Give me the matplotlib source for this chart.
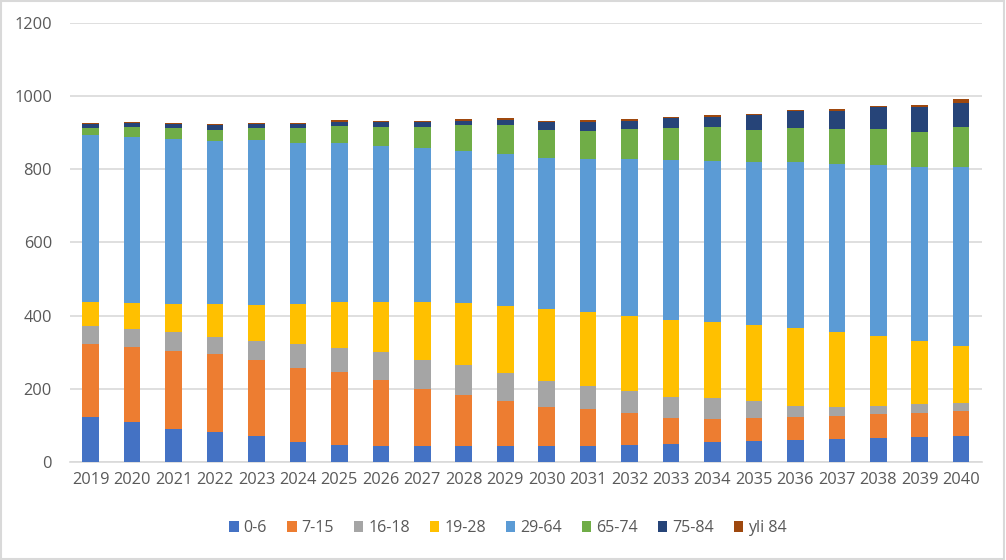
import numpy as np
import matplotlib.pyplot as plt
from matplotlib.patches import Rectangle

years = [str(y) for y in range(2019, 2041)]
groups = ["0-6", "7-15", "16-18", "19-28", "29-64", "65-74", "75-84", "yli 84"]

age_0_6 = [124, 108, 89, 83, 71, 55, 46, 44, 44, 44, 44, 44, 44, 47, 50, 56, 58, 60, 63, 66, 68, 71]
age_7_15 = [199, 205, 215, 211, 209, 203, 199, 179, 156, 140, 123, 107, 102, 88, 71, 62, 63, 64, 64, 66, 66, 69]
age_16_18 = [50, 51, 52, 49, 52, 65, 67, 77, 79, 82, 76, 71, 62, 59, 58, 57, 47, 29, 24, 21, 25, 22]
age_19_28 = [64, 70, 77, 90, 98, 110, 126, 137, 158, 168, 183, 195, 201, 204, 208, 209, 207, 214, 205, 192, 173, 156]
age_29_64 = [457, 455, 451, 445, 450, 440, 434, 426, 421, 416, 416, 413, 419, 430, 439, 438, 444, 452, 458, 466, 474, 488]
age_65_74 = [18, 27, 28, 30, 32, 39, 46, 53, 58, 71, 79, 78, 77, 83, 86, 93, 88, 93, 95, 98, 95, 109]
age_75_84 = [11, 11, 12, 12, 12, 11, 12, 12, 12, 11, 15, 20, 25, 22, 27, 29, 41, 46, 51, 60, 69, 67]
age_over_84 = [3, 2, 2, 3, 2, 3, 4, 3, 3, 5, 4, 3, 4, 4, 5, 4, 4, 4, 4, 4, 6, 10]

series = [age_0_6, age_7_15, age_16_18, age_19_28, age_29_64, age_65_74, age_75_84, age_over_84]
colors = ["#4472C4", "#ED7D31", "#A5A5A5", "#FFC000", "#5B9BD5", "#70AD47", "#264478", "#9E480E"]

plt.rcParams["font.family"] = ["Open Sans", "DejaVu Sans"]
txt = "#595959"
grid = "#D9D9D9"

fig = plt.figure(figsize=(10.06, 5.60), dpi=100)
ax = fig.add_axes([0.0696, 0.175, 0.9064, 0.784])

x = np.arange(len(years))
bottom = np.zeros(len(years))
for vals, col, name in zip(series, colors, groups):
    ax.bar(x, vals, width=0.4, bottom=bottom, color=col, label=name, zorder=3)
    bottom += np.array(vals)

ax.set_xlim(-0.5, len(years) - 0.5)
ax.set_ylim(0, 1200)
ax.set_yticks(range(0, 1201, 200))
ax.set_xticks(x)
ax.set_xticklabels(years)
ax.yaxis.grid(True, color=grid, linewidth=1.2, zorder=0)
for s in ["top", "right", "left"]:
    ax.spines[s].set_visible(False)
ax.spines["bottom"].set_color(grid)
ax.spines["bottom"].set_linewidth(1.2)
ax.tick_params(axis="both", length=0, colors=txt, labelsize=11.8)
ax.tick_params(axis="y", pad=13)
ax.tick_params(axis="x", pad=7)

fig.legend(loc="center", bbox_to_anchor=(0.505, 0.057), ncol=8, frameon=False,
           handlelength=0.6, handleheight=0.6, handletextpad=0.3,
           columnspacing=1.25, fontsize=11.5, labelcolor=txt)

fig.patches.append(Rectangle((0.001, 0.002), 0.997, 0.996, transform=fig.transFigure,
                             fill=False, edgecolor=grid, linewidth=1.5))

fig.savefig("out.png", dpi=100)
